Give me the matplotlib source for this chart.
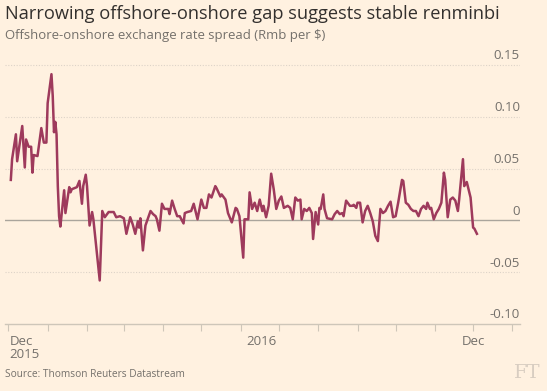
import matplotlib
matplotlib.use('Agg')
import matplotlib.pyplot as plt
import matplotlib.dates as mdates
import matplotlib.transforms as mtransforms
import pandas as pd

plt.rcParams['font.family'] = ['Open Sans', 'DejaVu Sans']

TITLE = 'Narrowing offshore-onshore gap suggests stable renminbi'
SUBTITLE = 'Offshore-onshore exchange rate spread (Rmb per $)'
SOURCE = 'Source: Thomson Reuters Datastream'

START = '2015-12-01'
# days after START for each observation
days = [2, 3, 6, 7, 11, 13, 14, 16, 18, 19, 20, 23, 26, 28, 30, 31, 34, 35, 36, 37,
        38, 39, 40, 41, 44, 45, 48, 49, 50, 54, 56, 58, 59, 61, 62, 64, 66, 67, 72, 74,
        76, 79, 83, 85, 88, 91, 93, 96, 98, 100, 102, 103, 104, 106, 108, 112, 114, 116, 117, 119,
        121, 123, 126, 127, 129, 131, 133, 135, 138, 139, 141, 144, 146, 149, 152, 154, 156, 158, 160, 163,
        164, 167, 168, 171, 173, 176, 179, 180, 182, 185, 186, 189, 190, 192, 194, 196, 198, 200, 201, 203,
        205, 207, 209, 211, 213, 215, 217, 220, 222, 224, 226, 228, 230, 231, 233, 235, 237, 239, 240, 242,
        244, 245, 246, 248, 249, 251, 255, 257, 259, 261, 263, 264, 266, 269, 271, 272, 274, 275, 277, 279,
        281, 283, 285, 287, 289, 291, 293, 295, 297, 299, 301, 303, 305, 307, 310, 311, 313, 315, 317, 319,
        321, 323, 325, 327, 329, 330, 332, 333, 335, 337, 339, 341, 343, 344, 346, 348, 350, 352, 354, 355,
        358, 359, 361, 363, 364, 366, 367, 369]
spread = [0.039, 0.059, 0.083, 0.057, 0.091, 0.051, 0.078, 0.071, 0.071, 0.046, 0.063, 0.062, 0.089, 0.075, 0.075, 0.113, 0.141, 0.120, 0.085, 0.095,
          0.083, 0.033, 0.004, -0.006, 0.029, 0.007, 0.032, 0.027, 0.030, 0.032, 0.038, 0.016, 0.033, 0.044, 0.033, -0.005, 0.008, 0.001, -0.058, 0.009,
          0.003, 0.008, 0.008, 0.003, 0.004, 0.002, -0.013, 0.003, -0.004, -0.013, -0.001, -0.007, 0.002, -0.029, -0.005, 0.009, 0.006, 0.004, 0.001, -0.010,
          0.016, 0.011, 0.011, 0.006, 0.019, 0.011, 0.004, 0.004, -0.003, 0.007, 0.008, 0.009, 0.016, 0.001, 0.020, 0.012, 0.012, 0.025, 0.022, 0.033,
          0.031, 0.023, 0.025, 0.020, 0.007, -0.002, 0.012, 0.011, 0.004, -0.036, 0.001, 0.001, 0.027, 0.011, 0.017, 0.009, 0.020, 0.009, 0.014, 0.003,
          0.014, 0.045, 0.030, 0.011, 0.019, 0.023, 0.012, 0.014, 0.012, 0.001, 0.022, 0.019, 0.020, 0.001, 0.011, 0.009, 0.012, 0.007, -0.018, 0.008,
          -0.004, 0.012, 0.011, 0.025, 0.011, 0.002, 0.001, 0.006, 0.009, 0.006, 0.007, 0.004, 0.019, 0.014, 0.014, 0.015, 0.012, 0.017, 0.017, -0.002,
          0.009, 0.014, 0.007, -0.001, -0.015, -0.020, 0.011, 0.007, 0.009, 0.014, 0.018, 0.003, 0.004, 0.017, 0.039, 0.038, 0.017, 0.015, 0.011, 0.009,
          0.009, 0.004, 0.011, 0.014, 0.011, 0.017, 0.011, 0.012, 0.001, 0.007, 0.011, 0.017, 0.046, 0.039, 0.003, 0.020, 0.022, 0.019, 0.009, 0.020,
          0.059, 0.033, 0.037, 0.027, 0.022, -0.007, -0.008, -0.013]

y_ticks = [0.15, 0.10, 0.05, 0, -0.05, -0.10]
y_labels = ['0.15', '0.10', '0.05', '0', '-0.05', '-0.10']

BG = '#fff1e0'
LINE = '#9e3a5c'
GREY_TXT = '#74706b'

dates = pd.Timestamp(START) + pd.to_timedelta(days, unit='D')

fig = plt.figure(figsize=(5.47, 3.91), dpi=100, facecolor=BG)
ax = fig.add_axes([0.0091, 0.1714, 0.9415, 0.676])
ax.set_facecolor(BG)

for v in y_ticks:
    if v == 0:
        ax.axhline(v, color='#aaa59c', lw=1.0, zorder=1)
    elif v != -0.10:
        ax.axhline(v, color='#ddd3c8', lw=0.8, ls=(0, (1, 1.5)), zorder=1)

ax.plot(dates, spread, color=LINE, lw=1.8, solid_joinstyle='round', zorder=3)

x0 = pd.Timestamp(START) - pd.Timedelta(days=2.6)
x1 = pd.Timestamp(START) + pd.Timedelta(days=402.9)
ax.set_xlim(x0, x1)
ax.set_ylim(-0.10, 0.155)

for s in ['top', 'right', 'left']:
    ax.spines[s].set_visible(False)
ax.spines['bottom'].set_color('#cec6b9')
ax.spines['bottom'].set_linewidth(1.0)

ax.set_yticks([])
trans = mtransforms.blended_transform_factory(ax.transAxes, ax.transData)
for v, lab in zip(y_ticks, y_labels):
    ax.text(1.0, v + 0.0025, lab, transform=trans, ha='right', va='bottom',
            fontsize=9.5, color=GREY_TXT)

ax.xaxis.set_major_locator(mdates.MonthLocator())
ax.xaxis.set_major_formatter(plt.NullFormatter())
ax.tick_params(axis='x', length=5, width=0.8, color='#cec6b9')

ax.text(pd.Timestamp('2015-12-01') + pd.Timedelta(days=1), -0.111, 'Dec\n2015',
        ha='left', va='top', fontsize=9.5, color=GREY_TXT, linespacing=1.0)
ax.text(pd.Timestamp('2016-06-17'), -0.111, '2016', ha='center', va='top',
        fontsize=9.5, color=GREY_TXT)
ax.text(pd.Timestamp('2016-12-01'), -0.111, 'Dec', ha='center', va='top',
        fontsize=9.5, color=GREY_TXT)

title = fig.text(0.009, 0.988, TITLE, ha='left', va='top', fontsize=12.5, color='#33302e')
sub = fig.text(0.009, 0.925, SUBTITLE, ha='left', va='top', fontsize=9.6, color=GREY_TXT)
fig.text(0.009, 0.028, SOURCE, ha='left', va='bottom', fontsize=7.3, color=GREY_TXT)
fig.text(0.988, 0.022, 'FT', ha='right', va='bottom', fontsize=14, color='#d8cdc1',
         family='DejaVu Serif')

# fit title / subtitle to the widths in the original (px)
renderer = fig.canvas.get_renderer()
for t, target in [(title, 497), (sub, 322)]:
    w = t.get_window_extent(renderer).width
    t.set_fontsize(t.get_fontsize() * target / w)

fig.savefig('out.png', dpi=100, facecolor=BG)
